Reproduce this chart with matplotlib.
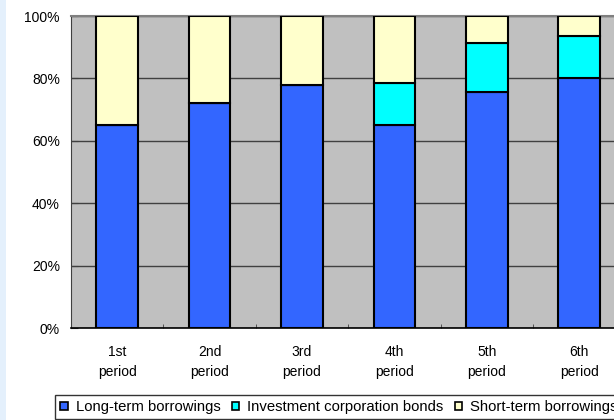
import numpy as np
import matplotlib.pyplot as plt
from matplotlib.patches import Rectangle

plt.rcParams['font.family'] = ['Liberation Sans', 'DejaVu Sans']

periods = ['1st\nperiod', '2nd\nperiod', '3rd\nperiod', '4th\nperiod', '5th\nperiod', '6th\nperiod']
long_term = [65.0, 72.0, 78.0, 65.0, 75.5, 80.0]
bonds = [0.0, 0.0, 0.0, 13.5, 16.0, 13.5]
short_term = [35.0, 28.0, 22.0, 21.5, 8.5, 6.5]

series = [
    ('Long-term borrowings', long_term, '#3366FF'),
    ('Investment corporation bonds', bonds, '#00FFFF'),
    ('Short-term borrowings', short_term, '#FFFFCC'),
]

W, H = 614, 420
fig = plt.figure(figsize=(W / 100, H / 100), dpi=100)
fig.patch.set_facecolor('white')

# pale strip down the left edge
fig.patches.append(Rectangle((0, 0), 6 / W, 1, transform=fig.transFigure,
                             facecolor='#E4F0FC', edgecolor='none'))

ax = fig.add_axes([71 / W, 92 / H, 6 * 92.4 / W, 312 / H])
ax.set_facecolor('#C0C0C0')

x = np.arange(len(periods))
bottom = np.zeros(len(periods))
handles = []
for name, vals, col in series:
    vals = np.array(vals)
    b = ax.bar(x, vals, 0.45, bottom=bottom, color=col, edgecolor='black',
               linewidth=1.5, label=name, zorder=3)
    bottom += vals
    handles.append(b)

ax.set_xlim(-0.5, len(periods) - 0.5)
ax.set_ylim(0, 100)
ax.set_yticks(np.arange(0, 101, 20))
ax.set_yticklabels([f'{v}%' for v in range(0, 101, 20)], fontsize=10)
ax.yaxis.grid(True, color='#404040', linewidth=1, zorder=1)
ax.set_axisbelow(True)

ax.set_xticks(x)
ax.set_xticklabels(periods, fontsize=10, linespacing=1.6)
ax.set_xticks(x[:-1] + 0.5, minor=True)
ax.tick_params(axis='x', which='major', length=0, pad=12)
ax.tick_params(axis='x', which='minor', length=3, direction='in', color='#404040')
ax.tick_params(axis='y', length=5, direction='in', color='#404040', pad=8)

ax.spines['right'].set_visible(False)
ax.spines['top'].set_color('#808080')
ax.spines['top'].set_linewidth(1.5)
ax.spines['left'].set_color('#404040')
ax.spines['bottom'].set_color('black')
ax.spines['bottom'].set_linewidth(1.2)

leg = fig.legend(handles=handles, loc='upper left', bbox_to_anchor=(55 / W, 1 - 395 / H),
                 ncol=3, fontsize=10.7, frameon=True, fancybox=False,
                 handlelength=0.5, handleheight=0.5, handletextpad=0.55,
                 columnspacing=0.75, borderpad=0.35, borderaxespad=0)
leg.get_frame().set_edgecolor('black')
leg.get_frame().set_linewidth(1.0)
for h in leg.legend_handles:
    h.set_linewidth(1.2)

fig.savefig('out.png', dpi=100)
